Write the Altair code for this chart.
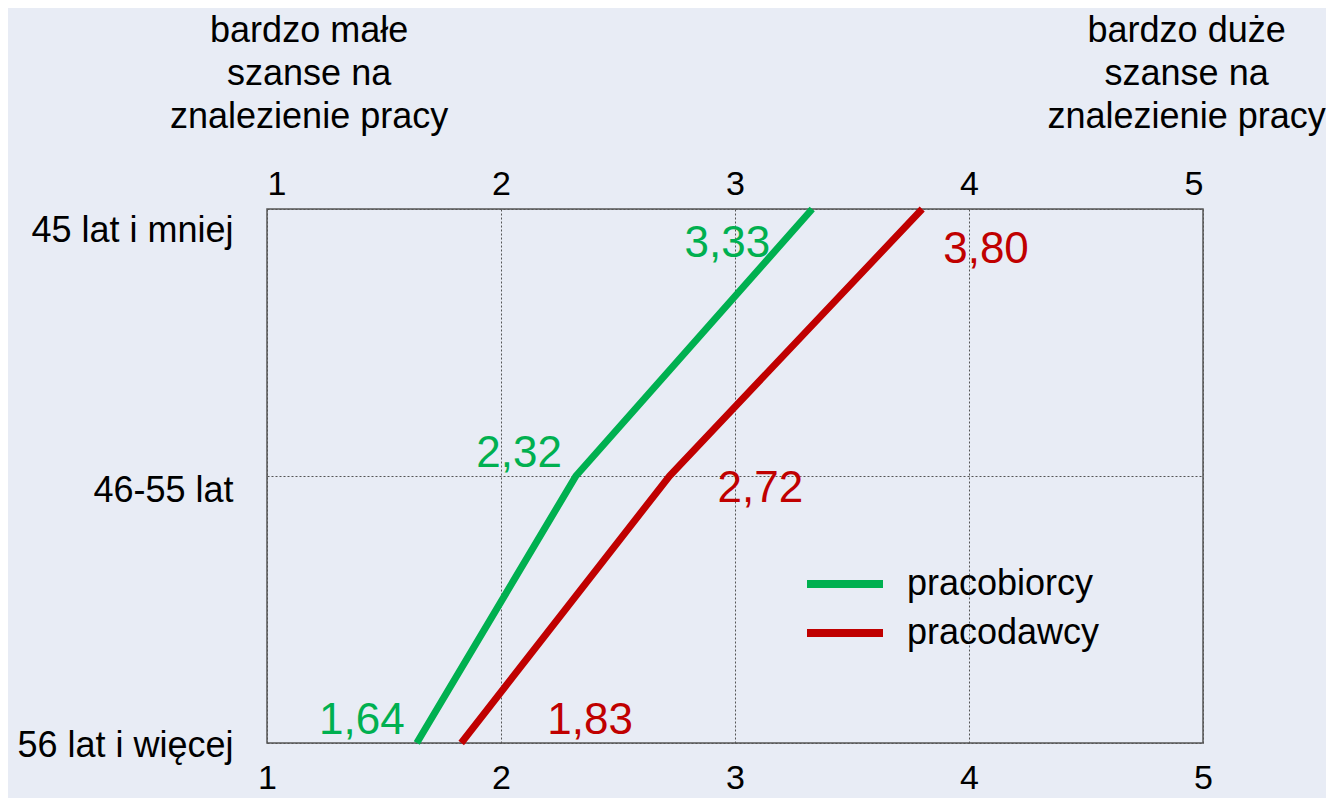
import altair as alt
import pandas as pd

categories = ["45 lat i mniej", "46-55 lat", "56 lat i więcej"]
series = ["pracobiorcy", "pracodawcy"]
pracobiorcy = [3.33, 2.32, 1.64]
pracodawcy = [3.80, 2.72, 1.83]
x_ticks = [1, 2, 3, 4, 5]
colors = ["#00B050", "#C00000"]
title_left = ["bardzo małe", "szanse na", "znalezienie pracy"]
title_right = ["bardzo duże", "szanse na", "znalezienie pracy"]

rows = []
for s, vals in zip(series, [pracobiorcy, pracodawcy]):
    for i, (c, v) in enumerate(zip(categories, vals)):
        rows.append({"series": s, "category": c, "order": i, "value": v,
                     "label": f"{v:.2f}".replace(".", ",")})
df = pd.DataFrame(rows)

FONT = "Liberation Sans"
xscale = alt.Scale(domain=[1, 5], nice=False, zero=False)
yscale = alt.Scale(type="point", domain=categories, padding=0)

lines = alt.Chart(df).mark_line(strokeWidth=7, strokeCap="butt").encode(
    x=alt.X("value:Q", scale=xscale,
            axis=alt.Axis(orient="bottom", values=x_ticks, title=None, labelFontSize=34,
                          labelColor="black", labelPadding=18, ticks=False, domain=False,
                          labelFlush=False, grid=True, gridColor="#555", gridDash=[2, 2],
                          gridWidth=1)),
    y=alt.Y("category:N", scale=yscale, sort=categories,
            axis=alt.Axis(orient="left", title=None, labelFontSize=36, labelColor="black",
                          labelPadding=34, ticks=False, domain=False, grid=True,
                          gridColor="#555", gridDash=[2, 2], gridWidth=1,
                          labelOffset={"condition": [
                              {"test": "datum.index < 0.25", "value": 21},
                              {"test": "datum.index < 0.75", "value": 14}],
                              "value": 2},
                          labelLimit=400)),
    color=alt.Color("series:N", scale=alt.Scale(domain=series, range=colors),
                    legend=alt.Legend(orient="none", legendX=555, legendY=352, title=None,
                                      symbolType="M-2,0L2,0", symbolSize=1444,
                                      symbolStrokeWidth=8, labelFontSize=36, labelOffset=39,
                                      labelColor="black", rowPadding=8, padding=0,
                                      labelFont=FONT, labelLimit=400)),
    order="order:Q",
    detail="series:N",
)

# top axis layer (invisible points)
top_axis = alt.Chart(df).mark_point(opacity=0).encode(
    x=alt.X("value:Q", scale=xscale,
            axis=alt.Axis(orient="top", values=x_ticks, title=None, labelFontSize=34,
                          labelColor="black", labelPadding=8, ticks=False, domain=False,
                          labelFlush=True, grid=False)),
    y=alt.Y("category:N", scale=yscale, sort=categories),
)

offsets = {
    ("pracobiorcy", 0): ("right", -42, 35),
    ("pracodawcy", 0): ("left", 21, 41),
    ("pracobiorcy", 1): ("right", -14, -22),
    ("pracodawcy", 1): ("left", 48, 13),
    ("pracobiorcy", 2): ("right", -12, -22),
    ("pracodawcy", 2): ("left", 86, -22),
}
label_layers = []
for (s, i), (al, dx, dy) in offsets.items():
    col = colors[series.index(s)]
    label_layers.append(
        alt.Chart(df).transform_filter(
            (alt.datum.series == s) & (alt.datum.order == i)
        ).mark_text(align=al, baseline="middle", dx=dx, dy=dy, fontSize=44, font=FONT,
                    color=col).encode(
            x=alt.X("value:Q", scale=xscale, axis=None),
            y=alt.Y("category:N", scale=yscale, sort=categories),
            text="label:N",
        )
    )

titles_df = pd.DataFrame({"pos": [1.18, 4.93],
                          "txt": ["\n".join(title_left), "\n".join(title_right)]})
titles = alt.Chart(titles_df).mark_text(
    align="center", baseline="alphabetic", fontSize=36, font=FONT, color="black",
    lineBreak="\n", lineHeight=43
).encode(
    x=alt.X("pos:Q", scale=xscale, axis=None),
    y=alt.value(-167),
    text="txt:N",
)

chart = alt.layer(lines, top_axis, *label_layers, titles).resolve_scale(
    x="independent"
).properties(
    width=936, height=534,
    autosize=alt.AutoSizeParams(type="none"),
    padding={"left": 259, "top": 201, "right": 123, "bottom": 55},
    background="#E8ECF5",
).configure(font=FONT).configure_view(
    stroke="#555", strokeWidth=1.5
)

chart.save("out.html", embed_options={"renderer": "svg", "actions": False})
